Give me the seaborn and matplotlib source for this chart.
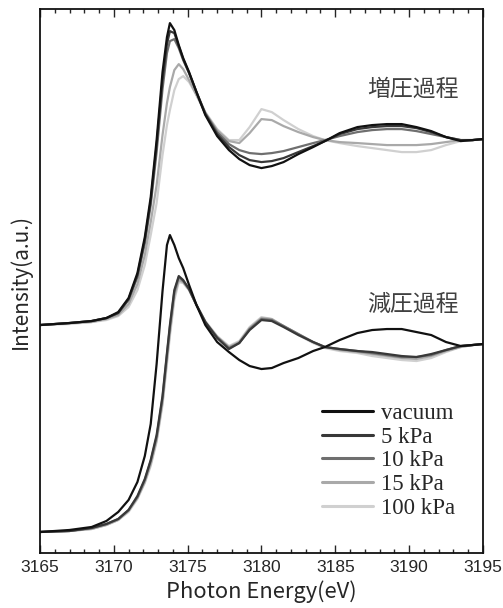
import matplotlib
matplotlib.use('Agg')
from matplotlib import pyplot as plt
from matplotlib.lines import Line2D
from matplotlib.ticker import MultipleLocator
import pandas as pd
import seaborn as sns

energia = [3165, 3167, 3168.5, 3169.5, 3170.3, 3171, 3171.6, 3172.1, 3172.5, 3172.9,
           3173.3, 3173.6, 3173.8, 3174.1, 3174.4, 3174.7, 3175.1, 3175.6, 3176.2, 3177,
           3177.8, 3178.5, 3179.2, 3180, 3180.7, 3181.5, 3182.5, 3183.5, 3184.3, 3185.3,
           3186.5, 3187.5, 3188.5, 3189.5, 3190.5, 3191.5, 3192.5, 3193.5, 3194.3, 3195]

pressoes = ['vacuum', '5 kPa', '10 kPa', '15 kPa', '100 kPa']
cores = ['#111111', '#383838', '#6f6f6f', '#a9a9a9', '#d0d0d0']

# 増圧過程 (curvas de cima)
inc_vacuum = [0, 2, 4, 7, 13, 27, 52, 88, 128, 185, 253, 288, 302, 295, 280, 267, 253, 233, 210, 189,
              175, 166, 160, 157, 159, 163, 171, 178, 184, 192, 198, 200, 201, 201, 198, 194, 188, 184, 185, 186]
inc_5kpa = [0, 2, 4, 7, 12, 26, 50, 85, 124, 180, 245, 281, 294, 292, 279, 266, 252, 233, 211, 191,
            178, 170, 165, 163, 164, 167, 173, 179, 184, 191, 196, 198, 199, 199, 197, 193, 188, 185, 185, 186]
inc_10kpa = [0, 2, 4, 7, 12, 25, 48, 82, 120, 173, 236, 272, 284, 286, 277, 265, 252, 233, 212, 193,
             181, 175, 172, 171, 172, 174, 178, 182, 185, 189, 193, 195, 196, 196, 194, 191, 188, 185, 185, 186]
inc_15kpa = [0, 2, 3, 6, 10, 21, 41, 70, 103, 140, 190, 222, 238, 255, 261, 256, 245, 230, 212, 195,
             184, 182, 192, 206, 205, 199, 193, 188, 185, 183, 182, 181, 180, 180, 180, 181, 183, 185, 185, 186]
inc_100kpa = [0, 1, 3, 5, 9, 18, 35, 60, 90, 122, 170, 200, 215, 235, 246, 249, 243, 230, 213, 196,
              185, 185, 198, 216, 213, 205, 196, 189, 185, 182, 179, 177, 175, 173, 173, 175, 180, 184, 185, 186]

# 減圧過程 (curvas de baixo)
dec_vacuum = [0, 2, 5, 11, 20, 32, 50, 76, 108, 168, 241, 287, 297, 287, 274, 264, 247, 227, 207, 190,
              180, 172, 166, 163, 164, 169, 174, 181, 185, 192, 199, 202, 203, 203, 200, 197, 190, 186, 187, 188]
dec_5kpa = [0, 1, 4, 8, 13, 22, 36, 53, 72, 97, 136, 179, 207, 242, 256, 252, 243, 227, 210, 194,
            183, 189, 202, 212, 211, 205, 197, 190, 185, 183, 181, 180, 178, 176, 175, 178, 182, 186, 187, 188]
dec_10kpa = [0, 1, 4, 8, 13, 22, 35, 52, 71, 95, 134, 177, 205, 240, 255, 251, 243, 227, 210, 195,
             184, 189, 203, 213, 212, 206, 198, 190, 185, 183, 181, 179, 177, 175, 175, 177, 182, 186, 187, 188]
dec_15kpa = [0, 1, 3, 7, 12, 21, 34, 50, 68, 92, 130, 172, 200, 236, 252, 250, 242, 227, 210, 195,
             185, 190, 204, 214, 213, 206, 198, 190, 185, 182, 180, 178, 176, 174, 173, 176, 181, 185, 187, 188]
dec_100kpa = [0, 1, 3, 7, 12, 20, 33, 49, 66, 90, 127, 168, 196, 232, 250, 249, 242, 227, 211, 196,
              186, 191, 205, 215, 213, 206, 197, 189, 184, 181, 179, 176, 174, 172, 171, 174, 180, 185, 187, 188]

deslocamento_inc = 207

linhas = []
for processo, series, desl in [('inc', [inc_vacuum, inc_5kpa, inc_10kpa, inc_15kpa, inc_100kpa], deslocamento_inc),
                               ('dec', [dec_vacuum, dec_5kpa, dec_10kpa, dec_15kpa, dec_100kpa], 0)]:
    for pressao, valores in zip(pressoes, series):
        for e, v in zip(energia, valores):
            linhas.append({'processo': processo, 'pressao': pressao, 'energia': e, 'intensidade': v + desl})
dados = pd.DataFrame(linhas)

sns.set_style('ticks')
plt.rcParams['font.family'] = ['Liberation Sans', 'Noto Sans CJK JP', 'DejaVu Sans']

fig, ax = plt.subplots(figsize=(5.03, 6.08), dpi=100)
fig.subplots_adjust(left=0.0795, right=0.960, top=0.985, bottom=0.0905)

for processo in ['inc', 'dec']:
    sns.lineplot(data=dados[dados.processo == processo], x='energia', y='intensidade',
                 hue='pressao', hue_order=pressoes[::-1], palette=cores[::-1],
                 estimator=None, sort=False, linewidth=1.6, legend=False, ax=ax)

ax.set_xlim(3165, 3195)
ax.set_ylim(-21, 523)
ax.set_yticks([])
ax.xaxis.set_major_locator(MultipleLocator(5))
ax.xaxis.set_minor_locator(MultipleLocator(1))
ax.tick_params(axis='x', which='both', direction='in', top=True, labelsize=12.5, pad=5, width=1)
ax.tick_params(axis='x', which='major', length=6)
ax.tick_params(axis='x', which='minor', length=3)
for sp in ax.spines.values():
    sp.set_linewidth(1.3)
    sp.set_color('#111111')

ax.set_xlabel('Photon Energy(eV)', fontsize=15.8, family=['Noto Sans CJK JP'], labelpad=4)
ax.set_ylabel('Intensity(a.u.)', fontsize=15, family=['Noto Sans CJK JP'], labelpad=6)

ax.text(3190.25, 443, '増圧過程', fontsize=16.5, color='#404040', ha='center', va='center',
        family=['Noto Sans CJK JP'])
ax.text(3190.25, 228, '減圧過程', fontsize=16.5, color='#404040', ha='center', va='center',
        family=['Noto Sans CJK JP'])

handles = [Line2D([], [], color=c, lw=2.2) for c in cores]
ax.legend(handles, pressoes, loc='upper left', bbox_to_anchor=(0.637, 0.276), frameon=False,
          borderpad=0, borderaxespad=0, handlelength=2.2, handletextpad=0.35, labelspacing=0.12,
          prop={'family': 'Liberation Serif', 'size': 16.5})

fig.savefig('out.png', dpi=100)
